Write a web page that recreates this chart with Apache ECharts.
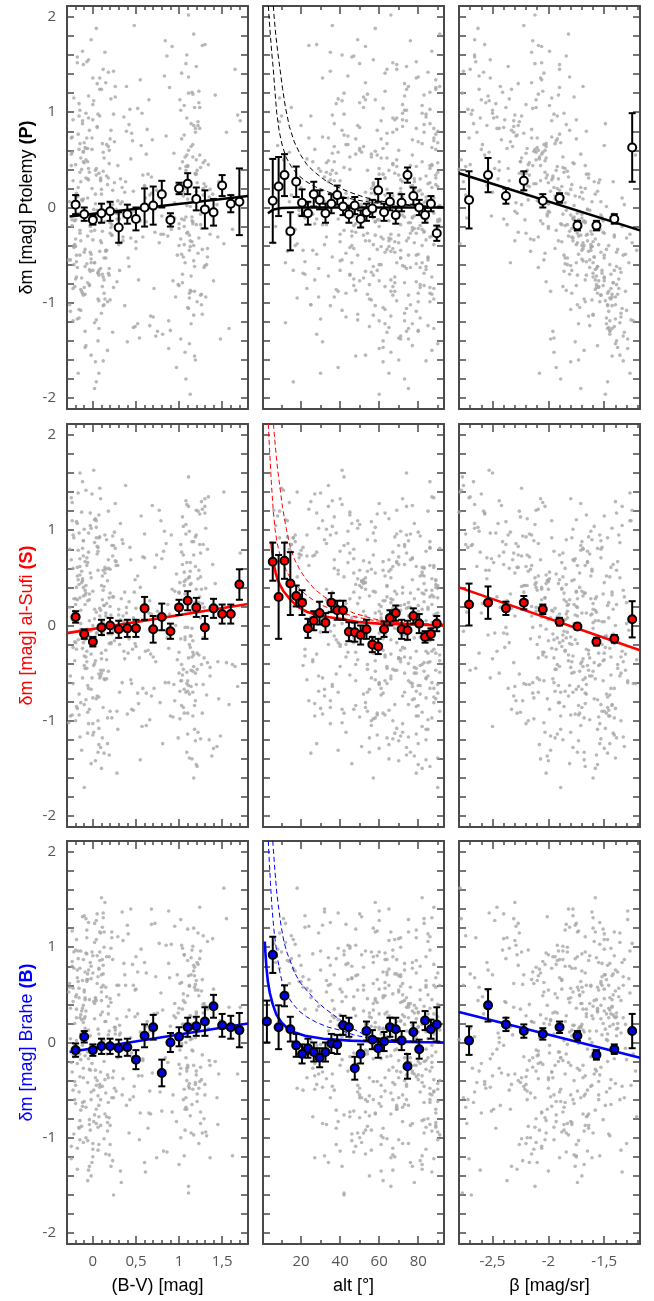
<!DOCTYPE html>
<html><head><meta charset="utf-8">
<script src="https://cdn.jsdelivr.net/npm/echarts@6/dist/echarts.min.js"></script>
<style>html,body{margin:0;padding:0;background:#fff}#c{width:654px;height:1301px}</style>
</head><body><div id="c"></div>
<script>
// ---------- individual stars (B-V, altitude, sky brightness beta, delta m per catalogue) ----------
const bvVals=[-0.22,0.05,1.12,-0.08,0.18,1.25,0.62,-0.15,0.02,1.05,-0.25,0.31,1.18,0.09,-0.11,0.88,1.31,0.14,-0.04,0.45,
1.09,-0.19,0.22,1.42,0.07,-0.27,0.56,1.15,-0.02,0.12,1.01,0.73,-0.13,0.26,1.22,-0.06,0.04,1.36,0.38,-0.21,
0.16,1.08,-0.09,0.95,0.67,-0.17,0.01,1.27,0.21,-0.24,1.14,0.48,0.10,-0.03,1.03,1.58,-0.12,0.29,0.83,1.19,
-0.07,0.13,1.11,-0.2,0.35,1.24,0.06,-0.14,0.97,0.52,1.33,-0.01,0.19,-0.26,1.06,0.77,0.08,1.16,-0.1,0.24,
1.29,-0.18,0.03,0.42,1.1,-0.05,0.15,1.48,0.61,-0.23,0.11,1.2,0.92,-0.08,0.27,1.04,0.0,-0.16,1.13,0.69,
0.17,-0.28,1.26,0.05,0.34,1.07,-0.12,0.91,0.2,1.38,-0.02,0.58,1.17,0.12,-0.19,1.0,0.44,-0.06,1.23,0.08,
1.65,-0.14,0.23,1.12,0.81,-0.09,0.04,1.3,0.36,-0.22,1.09,0.14,0.66,-0.04,1.19,0.98,0.28,-0.17,1.02,0.1,
-0.11,1.15,0.5,0.07,-0.25,1.28,0.18,0.86,-0.03,1.06,0.4,1.21,-0.15,0.02,0.71,1.11,-0.07,0.25,1.44,0.13,
0.94,-0.2,0.06,1.18,0.32,-0.1,1.25,0.55,0.16,-0.01,1.08,0.79,-0.18,0.21,1.14,0.03,1.34,-0.06,0.47,1.01,
-0.24,0.09,1.2,0.64,-0.13,0.3,1.05,0.0,1.52,-0.08,0.19,1.13,0.85,-0.16,0.11,1.27,0.37,-0.02,0.96,1.1,
0.15,-0.21,1.16,0.04,0.53,1.23,-0.12,0.26,1.07,-0.05,0.75,1.32,0.08,-0.19,1.0,0.43,1.17,0.12,-0.09,0.6,
1.12,-0.15,0.2,1.39,0.01,0.89,-0.23,1.04,0.33,0.07,1.22,-0.04,0.68,1.15,-0.11,0.17,1.09,0.5,-0.27,1.26,
0.06,1.71,-0.17,0.24,1.03,0.8,-0.07,0.13,1.19,0.39,-0.14,1.11,0.02,0.58,1.29,-0.1,0.22,0.93,1.06,-0.02,
0.1,1.14,-0.22,0.46,1.24,0.05,-0.08,0.99,0.72,1.17,-0.18,0.28,1.08,0.03,1.46,-0.12,0.16,0.63,1.21,-0.06,
1.02,0.19,-0.16,1.3,0.35,0.09,1.13,-0.03,0.84,-0.2,1.18,0.12,0.54,1.05,-0.09,0.23,1.36,0.0,-0.13,1.1,
0.41,-0.24,1.07,0.14,0.9,1.25,-0.05,0.3,1.16,0.07,-0.15,0.66,1.0,1.62,0.18,-0.11,1.12,0.49,0.04,1.2,
0.03,-0.18,1.14,0.22,-0.05,1.27,0.11,0.6,-0.23,1.09,0.15,-0.1,1.2,0.36,0.07,1.02,-0.14,0.27,1.31,0.0,
-0.2,1.06,0.18,0.49,-0.07,1.17,0.09,1.4,-0.16,0.31,1.11,0.05,-0.26,0.74,1.23,0.13,-0.02,1.08,0.42,-0.12,
1.19,0.2,-0.09,1.03,0.57,0.02,-0.21,1.28,0.16,0.88,-0.04,1.13,0.25,-0.17,1.0,0.65,0.06,1.35,-0.11,0.1,
0.14,1.16,-0.24,0.39,1.05,-0.06,0.23,1.22,0.01,-0.13,1.1,0.82,0.12,-0.19,1.26,0.47,1.55,-0.03,0.19,1.07,
-0.15,0.08,1.18,0.29,-0.08,1.12,0.7,0.04,-0.22,1.24,0.17,0.95,-0.01,1.04,0.34,-0.18,1.15,0.11,-0.06,0.52,
1.21,-0.12,0.21,1.09,0.06,-0.25,0.62,1.3,0.15,-0.04,1.01,0.44,-0.14,1.19,0.08,0.78,1.14,-0.09,0.26,1.68,
0.02,-0.2,1.25,0.37,0.1,1.06,-0.11,0.18,1.17,0.55,-0.02,1.11,0.87,-0.16,0.13,1.28,0.04,-0.07,1.03,0.32,
-0.23,1.13,0.07,0.68,1.2,-0.1,0.24,1.08,0.0,-0.15,1.33,0.45,0.12,1.16,-0.05,0.2,1.45,0.09,-0.19,1.1];
const altVals=[45,72,18,63,85,31,56,79,12,67,88,40,52,74,26,60,90,35,81,47,
69,22,58,83,38,76,8,65,49,87,29,71,54,91,43,62,16,78,34,57,
84,50,73,24,66,89,41,59,77,14,68,36,82,53,28,75,61,86,44,70,
19,64,80,47,33,88,55,72,39,62,85,27,67,79,51,6,74,58,90,42,
76,30,65,83,48,57,21,71,87,37,63,80,53,11,69,45,84,25,60,77,
89,41,54,73,32,66,86,17,61,78,46,70,91,35,56,82,23,68,50,75,
64,38,81,52,28,87,60,72,44,9,77,58,85,33,67,49,79,20,62,73,
55,86,40,69,76,15,83,47,63,90,31,57,74,42,88,66,26,80,51,71,
36,61,84,48,78,22,67,89,43,56,73,13,82,59,34,70,87,46,65,53,
81,29,74,62,39,85,57,68,18,77,50,88,44,63,83,24,71,55,37,79,
66,91,45,58,27,75,84,52,69,35,80,61,10,72,48,86,57,30,64,76,
43,82,54,70,21,89,60,37,78,65,49,84,32,73,58,87,41,67,14,80,
56,74,38,86,63,47,79,25,68,90,53,42,75,61,85,33,71,50,82,28,
64,77,46,88,59,19,72,55,83,40,67,91,36,62,78,51,26,69,86,44,
73,57,81,34,65,89,48,7,76,60,84,39,70,53,87,23,66,79,45,62,
85,31,71,58,80,42,67,88,54,16,75,63,47,82,37,69,90,52,77,60,
58,81,37,70,86,49,64,77,23,91,53,68,33,84,45,75,61,88,29,72,
66,42,83,55,79,17,71,60,89,39,74,50,85,27,63,80,46,69,57,87,
35,76,62,48,82,12,67,90,54,73,41,65,86,30,78,58,21,84,51,70,
88,44,59,75,36,81,64,9,72,52,87,40,69,79,25,61,83,47,74,56,
77,31,66,85,50,71,43,89,60,15,80,57,34,73,87,46,68,22,82,63,
54,86,39,76,62,48,90,28,71,83,57,65,41,79,13,88,52,74,60,36,
82,67,45,58,89,32,75,63,20,84,53,70,87,38,66,78,49,24,80,61,
72,55,88,43,69,81,35,77,59,90,47,64,84,27,73,56,86,40,68,79];
const betaVals=[-1.62,-2.31,-1.45,-2.02,-2.58,-1.83,-1.71,-2.2,-1.36,-1.94,-2.71,-1.52,-2.11,-1.78,-2.44,-1.29,-1.88,-2.15,-1.57,-1.99,
-2.49,-1.66,-1.41,-1.91,-2.26,-1.74,-1.5,-2.07,-2.66,-1.6,-1.85,-1.33,-2.18,-1.69,-2.03,-2.37,-1.47,-1.8,-2.76,-1.55,
-1.96,-2.12,-1.39,-2.29,-1.64,-1.9,-2.53,-1.48,-1.76,-2.05,-1.31,-2.22,-1.58,-1.86,-2.4,-1.43,-1.97,-1.67,-2.62,-1.73,
-1.53,-2.24,-1.81,-1.37,-2.09,-2.46,-1.68,-1.42,-1.93,-2.14,-1.59,-2.6,-1.77,-1.46,-2.0,-1.25,-2.33,-1.72,-1.89,-2.69,
-1.63,-1.4,-2.19,-1.84,-1.51,-2.52,-1.7,-1.98,-1.34,-2.35,-1.87,-1.56,-2.06,-2.78,-1.65,-1.44,-2.13,-1.92,-1.49,-2.42,
-1.79,-2.04,-1.38,-2.27,-1.61,-1.95,-2.67,-1.54,-1.75,-2.01,-1.28,-2.17,-1.82,-1.47,-2.38,-1.68,-2.08,-1.42,-2.56,-1.74,
-1.9,-1.58,-2.23,-1.66,-1.45,-2.1,-2.48,-1.8,-1.52,-1.97,-1.22,-2.3,-1.63,-1.86,-2.64,-1.5,-2.02,-1.71,-2.16,-1.35,
-1.69,-2.41,-1.88,-1.49,-2.07,-2.74,-1.6,-1.84,-1.39,-2.21,-1.76,-1.55,-2.5,-1.93,-1.44,-2.12,-1.7,-2.34,-1.32,-1.83,
-2.2,-1.61,-1.95,-1.43,-2.45,-1.78,-1.53,-2.06,-2.59,-1.67,-1.89,-1.27,-2.28,-1.81,-1.57,-2.0,-2.7,-1.73,-1.46,-2.11,
-1.85,-1.36,-2.36,-1.64,-1.98,-1.42,-2.19,-1.75,-2.79,-1.56,-2.03,-1.48,-2.29,-1.8,-1.62,-2.09,-2.5,-1.7,-1.4,-1.92,
-2.16,-1.51,-1.87,-2.63,-1.67,-1.3,-2.1,-1.77,-2.34,-1.54,-1.96,-1.45,-2.24,-1.72,-2.05,-2.72,-1.6,-1.83,-1.38,-2.17,
-1.79,-2.02,-1.5,-2.4,-1.65,-1.9,-1.24,-2.25,-1.74,-2.08,-2.55,-1.58,-1.82,-1.44,-2.13,-1.68,-2.66,-1.94,-1.53,-2.0,
-1.35,-2.31,-1.76,-1.57,-2.04,-2.51,-1.85,-1.47,-2.2,-1.66,-1.91,-2.77,-1.71,-1.41,-2.11,-1.78,-2.37,-1.55,-1.99,-1.31,
-2.22,-1.73,-1.46,-1.93,-2.57,-1.63,-1.86,-1.39,-2.27,-1.69,-2.06,-1.52,-2.44,-1.8,-1.59,-2.01,-1.21,-2.15,-1.67,-1.88,
-2.68,-1.74,-1.48,-2.03,-2.3,-1.64,-1.84,-1.34,-2.14,-1.77,-1.56,-2.53,-1.95,-1.7,-1.43,-2.24,-1.61,-2.07,-2.8,-1.72,
-1.5,-1.97,-2.38,-1.69,-1.45,-1.87,-2.61,-1.62,-2.09,-1.79,-1.33,-2.19,-1.75,-1.54,-2.32,-1.9,-1.4,-2.0,-2.73,-1.66,
-1.82,-2.09,-1.49,-1.71,-2.36,-1.6,-1.94,-2.55,-1.37,-1.77,-2.15,-1.53,-1.88,-2.46,-1.66,-1.29,-2.02,-1.74,-1.43,-2.2,
-1.58,-2.28,-1.85,-1.41,-2.65,-1.7,-1.97,-1.5,-2.12,-1.78,-1.34,-2.4,-1.63,-1.9,-2.05,-1.47,-1.81,-2.74,-1.56,-1.99,
-2.23,-1.67,-1.38,-1.92,-2.5,-1.75,-1.55,-2.17,-1.84,-1.45,-2.33,-1.61,-2.0,-1.27,-1.79,-2.6,-1.52,-1.87,-2.11,-1.69,
-1.44,-2.04,-1.73,-2.43,-1.59,-1.91,-1.32,-2.26,-1.8,-1.5,-2.14,-1.65,-2.7,-1.86,-1.4,-1.98,-2.31,-1.72,-1.57,-2.08,
-1.76,-2.52,-1.46,-1.89,-2.19,-1.62,-1.35,-2.01,-1.83,-2.38,-1.54,-1.7,-2.1,-1.42,-1.95,-2.66,-1.6,-1.81,-2.25,-1.48,
-1.93,-1.56,-2.35,-1.74,-1.39,-2.06,-1.67,-2.57,-1.85,-1.51,-2.13,-1.78,-1.3,-2.44,-1.64,-1.9,-2.02,-1.45,-1.71,-2.3,
-1.6,-2.18,-1.87,-1.43,-2.62,-1.75,-1.53,-1.96,-2.27,-1.68,-1.36,-2.09,-1.82,-2.47,-1.58,-1.92,-1.26,-2.15,-1.73,-2.0,
-2.39,-1.65,-1.47,-1.84,-2.11,-1.55,-2.76,-1.77,-1.41,-2.03,-1.69,-2.22,-1.33,-1.89,-2.54,-1.61,-1.79,-2.07,-1.5,-1.94];
const dmP=[-0.42,0.85,-0.95,0.31,1.42,-0.18,0.56,-0.27,-1.21,0.12,0.73,-0.66,1.05,-0.35,0.48,-1.48,0.22,1.63,-0.81,-0.05,
0.94,-0.57,-0.29,1.18,0.36,-1.02,0.65,-0.14,1.76,-0.73,0.41,-1.35,0.08,1.27,-0.48,0.62,-1.83,0.19,0.27,-0.39,
0.33,1.51,-0.62,0.05,-1.14,0.77,1.12,-0.44,-0.21,0.58,-0.88,1.91,0.14,-0.67,-0.12,-1.27,0.91,0.44,1.38,-1.6,
-0.08,0.52,1.37,-0.75,-0.31,0.83,-0.96,0.27,-1.68,1.04,-0.52,0.61,0.46,-1.09,-0.2,-0.37,1.24,-0.15,0.68,0.98,
-0.63,-1.17,0.39,0.87,-0.26,1.55,-0.45,-1.38,0.1,0.28,-0.83,0.17,1.69,0.5,-0.02,-0.7,-0.34,0.96,-1.96,0.71,
0.24,-0.55,-0.91,1.3,0.06,-1.52,0.88,-0.23,0.72,-0.09,-0.58,0.34,1.82,-1.03,0.15,-0.4,0.51,-0.79,1.1,-0.16,
1.45,-0.86,0.18,-0.29,-1.33,0.63,0.41,-0.61,-0.1,1.15,0.55,-0.04,-1.24,0.37,0.79,-0.5,-0.78,0.21,-0.33,-1.11,
0.09,1.21,-0.36,-0.98,0.44,0.13,-0.69,1.59,-0.47,-0.13,-1.41,0.26,1.02,-0.24,-0.85,2.02,-0.07,0.69,0.03,-0.53,
0.57,-0.41,0.98,-1.56,0.3,-0.11,-0.92,1.34,0.66,0.2,-1.8,-0.28,-0.06,0.81,-0.72,0.04,0.45,-0.3,-1.26,1.13,
-0.19,-0.64,1.48,0.35,-0.88,-0.07,0.23,0.92,-0.38,-1.45,0.6,0.01,0.75,-1.07,-0.25,1.7,0.16,-0.54,-0.94,0.43,
-0.46,-0.14,0.53,1.88,-0.76,-0.32,0.07,1.16,-0.58,0.29,-1.3,-0.6,0.96,0.11,-0.17,1.03,-1.13,0.38,-0.44,0.22,
-0.9,0.67,-0.27,0.14,-0.02,1.26,-1.19,0.48,-0.37,-1.74,0.86,-0.65,0.32,-0.1,0.59,-1.5,1.6,-0.43,0.06,-0.22,
-0.68,0.91,0.12,-0.84,1.41,-0.09,-0.59,-1.02,0.36,0.8,-0.35,1.2,-1.9,-0.31,0.25,0.47,-0.18,-0.77,1.07,-0.49,
0.19,-1.22,-0.4,0.7,0.55,-0.03,0.99,-0.81,-0.26,-0.56,1.52,-0.12,0.39,-1.62,0.27,-0.07,-0.45,0.82,-0.99,0.1,
1.02,-0.71,-1.16,0.49,-0.35,0.31,-0.87,-0.2,1.75,-0.13,-0.62,0.58,-1.37,0.16,-0.91,0.03,-0.28,1.36,0.4,-1.05,
-0.53,0.74,0.2,-0.15,-1.29,0.42,0.94,-0.39,1.19,-0.66,-0.5,0.13,-0.82,-0.23,0.64,1.5,-1.43,-0.04,-0.11,0.35,
0.14,-0.63,0.88,-0.29,0.41,-1.12,0.67,0.23,-0.85,0.02,1.31,-0.47,-0.18,0.95,-0.71,-1.38,0.52,-0.06,-0.94,1.08,
-0.33,0.76,0.05,-1.25,1.53,-0.4,0.29,-0.77,0.61,-0.12,-1.06,0.84,-0.55,0.18,1.22,-0.9,-0.25,0.43,-0.62,1.64,
0.35,-0.16,-1.47,0.72,0.99,-0.58,-0.83,0.47,-0.03,-1.19,0.81,-0.41,0.26,-1.74,-0.22,1.13,-0.69,0.11,0.58,-0.37,
-0.96,0.66,-0.13,1.27,-0.52,0.3,-1.31,0.9,-0.08,-0.74,0.44,-0.28,1.45,-0.5,-1.02,0.17,0.79,-0.19,-0.64,0.53,
-0.24,1.36,-0.88,0.07,0.62,-0.45,-1.15,0.34,-0.6,1.05,-0.99,-0.11,0.73,-0.79,0.21,1.58,-0.36,-0.7,0.48,-1.22,
0.39,-0.9,1.14,-0.27,-1.4,0.56,-0.15,1.71,-0.53,-0.82,0.25,-0.32,-1.08,0.83,-0.46,0.1,0.64,-1.3,-0.2,0.97,
-0.58,0.45,-0.07,-1.03,1.24,-0.39,-0.92,0.31,0.86,-0.14,-1.55,0.6,-0.3,1.09,-0.76,0.2,-1.18,0.73,-0.49,0.04,
0.92,-0.35,-1.27,0.15,0.5,-0.84,1.43,-0.1,-0.66,0.37,-0.43,0.78,-1.61,-0.17,1.17,-0.97,-0.31,0.28,-0.73,0.09];
const dmS=[0.28,-0.74,0.51,-0.33,1.2,0.08,-1.05,0.62,0.87,-0.46,1.34,-0.2,0.15,-1.28,0.73,-0.6,0.39,0.95,-0.12,-0.88,
0.66,-0.25,-0.97,0.44,-0.51,0.19,1.15,-1.4,1.02,0.03,-0.69,-0.38,0.57,0.81,-1.12,0.26,0.92,-0.44,1.47,-0.17,
-0.56,1.06,0.22,-0.79,-0.3,0.48,1.63,-0.92,0.11,1.29,-0.47,0.35,-1.5,-0.06,0.77,-0.83,-0.24,0.63,0.99,-1.21,
0.71,0.41,-0.63,-0.18,0.86,0.3,-1.33,-0.09,0.54,-0.71,-0.39,1.38,0.02,-0.95,0.46,1.21,0.18,-0.48,-1.7,0.84,
-0.34,-0.87,1.12,0.25,-0.58,0.97,0.13,-1.16,-0.27,0.6,-0.1,-1.46,0.38,1.42,0.67,-0.52,-0.76,0.09,-0.23,1.26,
0.47,-1.02,-0.41,0.83,0.9,-0.15,1.51,0.95,0.2,-1.37,-0.05,0.72,-0.31,-0.86,1.09,0.34,-0.57,-1.13,0.58,0.1,
-0.43,0.16,0.94,-0.72,-1.24,0.37,-0.08,1.33,0.04,0.92,-0.61,0.55,-0.99,0.27,0.62,-0.36,-1.55,0.79,-0.14,-0.5,
0.31,0.88,-0.22,-1.08,0.69,0.85,-0.48,-0.13,1.18,0.42,-0.93,-0.29,1.6,0.07,-0.66,0.5,-0.38,0.98,-1.27,0.21,
-0.62,0.12,0.78,-0.84,1.07,-0.32,-1.19,0.4,0.23,-0.55,-0.7,1.1,0.61,-0.19,0.14,-1.42,1.35,-0.04,-0.89,0.45,
0.06,-0.53,0.95,-0.26,-1.31,0.17,0.74,0.36,1.4,-0.78,0.29,-0.11,0.86,-0.94,0.52,1.22,-0.35,-0.67,0.0,-1.14,
0.59,-0.37,-0.16,1.03,-0.82,0.24,-0.55,0.68,0.33,-1.03,0.15,-0.73,1.44,0.4,-0.28,0.82,-1.6,-0.07,-0.45,0.96,
-0.2,0.53,-0.9,0.64,-0.42,0.12,-0.61,1.14,0.28,-1.25,0.49,0.05,-0.74,-0.33,0.89,-0.97,1.27,0.18,0.8,0.38,
-1.0,0.76,-0.15,0.3,-0.58,0.7,-0.27,-1.34,0.93,0.13,-0.81,1.56,-0.4,-0.66,0.19,1.01,-0.09,-0.96,0.56,-0.3,
0.42,-0.64,0.08,-0.25,1.17,0.75,0.34,-1.18,0.61,-0.43,0.27,-0.9,1.31,-0.12,-0.77,0.47,-0.36,0.2,-1.48,0.66,
0.85,-0.19,-0.72,1.25,0.1,-0.47,0.43,1.05,-0.6,0.22,-1.09,0.58,-0.34,-0.86,0.32,0.73,-0.53,0.0,1.19,-0.92,
-0.29,1.1,-0.02,-0.57,-0.95,0.51,0.77,0.11,-0.7,0.92,-1.17,0.26,0.35,-0.41,0.69,-0.18,-1.39,0.48,0.14,-0.62,
-0.37,0.52,-0.11,0.84,-0.66,0.23,-1.18,0.71,0.95,-0.49,0.1,-0.83,0.38,-0.27,1.16,-0.58,-0.04,0.63,1.02,-1.03,
0.28,-0.92,0.6,-0.19,-0.45,0.88,0.16,-1.29,0.43,-0.7,1.25,-0.08,-0.53,0.74,-0.31,0.21,-1.45,0.96,-0.14,0.49,
-0.79,0.34,0.67,-0.41,-1.06,1.11,0.05,-0.62,0.9,-0.24,-0.88,0.57,-0.16,1.39,-0.5,0.13,0.82,-1.2,0.4,-0.35,
0.61,-0.28,-0.94,0.19,1.04,-0.63,0.3,1.2,-1.12,0.45,-0.02,0.78,-0.47,-0.85,1.3,0.08,-0.39,0.55,-1.36,-0.12,
0.7,-0.55,0.24,-1.09,0.42,0.99,-0.33,-0.77,0.15,0.85,-1.24,0.36,-0.2,0.64,-0.6,1.07,-0.03,0.27,-0.91,0.52,
-0.46,0.81,-0.18,-1.33,0.58,0.09,-0.71,1.18,-0.26,0.33,-0.98,0.69,0.02,-0.5,0.93,-0.81,0.44,-0.15,1.28,-0.64,
0.17,-1.0,0.76,0.35,-0.29,-0.67,0.89,-0.09,0.74,-1.41,0.5,-0.34,0.22,0.97,-0.56,-0.13,1.1,0.63,-0.84,0.06,
-0.23,0.66,-0.75,0.12,1.21,-0.42,-0.06,0.48,-1.15,0.29,0.8,-0.61,0.37,-0.95,-0.1,0.59,-0.38,1.33,0.04,-0.69];
const dmB=[-0.15,0.62,-0.48,0.94,0.3,-0.85,0.17,-0.36,1.05,0.51,-1.22,0.08,0.79,-0.6,-0.27,1.38,-0.94,0.22,0.45,-0.11,
-0.7,0.35,1.16,-0.2,-1.07,0.58,0.98,0.04,-0.52,1.31,-0.33,0.69,-0.88,0.13,0.82,-1.45,1.08,-0.24,0.6,-0.41,
0.9,-0.58,0.27,1.22,-0.75,-0.1,0.43,0.66,-1.3,0.85,0.19,-0.46,1.52,-0.92,-0.03,0.37,-0.67,1.11,-0.3,0.55,
0.64,-1.01,0.11,0.48,-0.38,1.42,-0.56,0.29,-0.83,0.74,1.06,-0.22,-1.18,0.36,0.92,1.04,-0.44,0.16,-0.62,-1.6,
0.41,0.76,-0.29,-0.95,1.19,-0.17,0.58,0.23,-1.36,-0.5,0.87,0.32,-0.73,1.3,-0.07,0.99,-1.12,0.47,0.14,-0.32,
-0.84,0.53,0.2,-0.4,1.37,0.09,-0.63,1.03,-1.07,0.39,0.67,-0.19,-0.97,0.81,0.26,-1.28,0.05,0.72,-0.48,1.16,
0.18,-0.71,-1.24,0.6,0.34,-0.14,1.28,-0.55,0.83,0.78,-0.3,1.47,0.12,-0.86,-0.42,0.71,0.25,0.64,-1.0,0.44,
-0.37,0.97,0.56,-0.66,-0.21,1.12,0.38,-1.15,0.07,-0.49,1.23,0.84,-0.12,-0.76,0.3,-1.51,0.93,0.16,-0.58,1.0,
0.28,-0.45,-0.89,0.7,0.1,1.33,-0.26,-0.74,0.48,0.95,-0.16,0.52,-1.33,0.42,0.89,-0.37,0.15,-1.03,0.6,-0.08,
0.8,1.15,-0.34,-0.9,0.24,0.5,-0.6,-1.2,1.62,0.33,-0.79,0.03,1.02,0.57,-0.46,-0.13,0.71,-1.4,0.26,0.86,
-0.53,0.2,1.01,0.44,-0.35,-1.06,0.65,0.09,-0.7,1.26,0.31,-0.98,0.95,0.5,-0.23,-0.6,1.2,-0.02,0.74,-1.26,
0.13,-0.82,0.46,1.09,-0.5,0.68,-0.12,0.35,-1.47,0.77,0.55,-0.28,1.4,-0.65,0.21,-0.93,0.06,0.9,0.62,-0.39,
-1.13,0.37,0.88,-0.3,0.63,-0.72,1.18,0.02,-0.44,0.27,0.96,-1.58,0.41,-0.17,-0.8,0.53,1.1,-0.55,0.19,-0.06,
0.71,0.14,-0.96,0.82,-0.41,0.91,-0.68,0.31,1.25,-0.24,-1.11,0.6,0.0,0.47,-0.33,1.32,-0.78,0.22,-0.54,0.66,
-0.27,0.9,-0.52,0.12,1.07,-0.87,0.28,0.84,-0.16,-0.64,0.58,1.36,-1.02,0.19,0.45,-0.37,-1.21,0.73,0.03,0.49,
1.14,-0.31,0.42,-0.75,0.17,0.96,-1.34,0.6,-0.09,0.78,0.26,-0.51,0.36,-1.19,0.08,0.87,-0.43,0.55,-0.85,0.3,
0.46,-0.22,0.71,-0.58,0.13,-0.95,0.32,0.84,0.57,-0.4,-1.17,0.25,0.65,-0.07,-0.78,1.29,0.09,-0.51,0.38,-1.06,
-0.14,0.92,-0.63,0.27,1.1,0.75,-0.31,0.56,-0.89,0.18,-0.46,1.35,0.04,-1.21,0.49,-0.2,0.8,-0.68,0.34,-0.03,
0.61,-0.87,0.15,1.02,-0.35,1.25,-0.6,0.4,-0.12,0.83,-1.3,0.28,-0.48,0.96,0.07,-0.74,0.69,-0.19,-1.05,0.53,
-0.39,0.2,1.17,-0.66,0.44,-0.1,0.87,1.15,-0.83,0.33,-0.26,-1.14,0.72,0.02,0.54,-0.57,1.3,-0.29,0.12,-0.92,
0.78,-0.47,0.26,-0.16,-1.0,0.59,0.1,-0.7,0.95,0.88,-0.34,0.41,-1.26,0.19,-0.55,0.68,-0.08,1.21,-0.42,0.3,
-0.62,0.36,0.99,-0.27,0.14,-1.09,0.73,-0.44,0.22,-0.81,0.62,1.4,-0.18,0.05,0.86,-0.52,-0.95,0.47,0.16,-0.33,
0.25,0.97,-0.73,-0.05,0.58,-1.19,0.39,-0.37,0.81,0.11,-0.6,0.7,-0.21,-0.9,1.16,0.31,-0.45,0.66,-0.01,-1.35,
0.43,-0.77,0.09,1.24,-0.3,0.55,-0.58,0.18,0.91,-1.02,0.35,-0.15,0.6,-0.49,0.76,0.0,-0.86,0.29,1.08,-0.24];

// ---------- binned means ----------
const bvBins=[-0.2,-0.1,0,0.1,0.2,0.3,0.4,0.5,0.6,0.7,0.8,0.9,1,1.1,1.2,1.3,1.4,1.5,1.6,1.7];
const altBins=[5.5,8.5,11.5,14.5,17.5,20.5,23.5,26.5,29.5,32.5,35.5,38.5,41.5,44.5,47.5,50.5,53.5,56.5,59.5,62.5,65.5,68.5,71.5,74.5,77.5,80.5,83.5,86.5,89.5];
const altBinsB=[2.5,5.5,8.5,11.5,14.5,17.5,20.5,23.5,26.5,29.5,32.5,35.5,38.5,41.5,44.5,47.5,50.5,53.5,56.5,59.5,62.5,65.5,68.5,71.5,74.5,77.5,80.5,83.5,86.5,89.5];
const betaBins=[-2.71,-2.54,-2.38,-2.22,-2.05,-1.9,-1.74,-1.57,-1.41,-1.25];

const pBvMean=[0.03,-0.07,-0.13,-0.06,-0.04,-0.21,-0.07,-0.12,0.0,0.02,0.14,-0.13,0.2,0.25,0.09,-0.02,-0.05,0.23,0.04,0.06];
const pBvErr=[0.1,0.07,0.05,0.1,0.1,0.16,0.1,0.12,0.2,0.2,0.14,0.07,0.06,0.11,0.12,0.2,0.14,0.11,0.09,0.35];
const pAltMean=[0.07,0.22,0.34,-0.25,0.27,0.05,-0.06,0.14,0.08,-0.06,0.04,0.13,0.01,-0.07,0.02,-0.12,-0.05,-0.01,0.18,-0.05,0.06,-0.08,0.05,0.34,0.12,0.0,-0.08,0.04,-0.27];
const pAltErr=[0.44,0.31,0.22,0.2,0.16,0.14,0.12,0.13,0.1,0.1,0.1,0.1,0.09,0.09,0.09,0.09,0.09,0.09,0.12,0.09,0.09,0.09,0.09,0.08,0.09,0.08,0.08,0.08,0.08];
const pBetaMean=[0.08,0.34,0.12,0.28,0.07,0.1,-0.19,-0.19,-0.12,0.63];
const pBetaErr=[0.3,0.18,0.08,0.1,0.07,0.05,0.05,0.05,0.05,0.36];

const sBvMean=[0.09,-0.09,-0.17,-0.02,0.0,-0.04,-0.03,-0.03,0.18,-0.04,0.09,-0.06,0.19,0.26,0.19,-0.02,0.18,0.12,0.12,0.43];
const sBvErr=[0.06,0.05,0.05,0.08,0.08,0.09,0.09,0.09,0.12,0.14,0.14,0.08,0.08,0.1,0.1,0.12,0.1,0.1,0.1,0.16];
const sAltMean=[0.67,0.30,0.68,0.44,0.31,0.24,-0.03,0.05,0.13,0.03,0.24,0.16,0.16,-0.065,-0.07,-0.1,-0.04,-0.2,-0.22,-0.04,0.08,0.13,-0.04,-0.05,0.1,0.02,-0.12,-0.09,0.02];
const sAltErr=[0.2,0.44,0.19,0.33,0.11,0.13,0.1,0.1,0.12,0.1,0.1,0.1,0.1,0.1,0.1,0.1,0.1,0.08,0.08,0.08,0.08,0.08,0.1,0.1,0.08,0.1,0.06,0.06,0.08];
const sBetaMean=[0.22,0.24,0.18,0.24,0.17,0.04,-0.01,-0.17,-0.14,0.065];
const sBetaErr=[0.22,0.17,0.07,0.07,0.05,0.04,0.03,0.04,0.04,0.19];

const bBvMean=[-0.08,0.06,-0.08,-0.04,-0.04,-0.06,-0.05,-0.18,0.07,0.16,-0.32,0.0,0.06,0.16,0.17,0.22,0.38,0.18,0.16,0.13];
const bBvErr=[0.07,0.06,0.06,0.08,0.08,0.09,0.09,0.1,0.12,0.13,0.14,0.1,0.1,0.1,0.1,0.15,0.12,0.12,0.12,0.18];
const bAltMean=[0.22,0.92,0.16,0.49,0.14,-0.03,-0.12,-0.06,-0.1,-0.16,-0.1,-0.01,-0.02,0.18,0.16,-0.27,-0.12,0.12,0.03,-0.06,0.01,0.16,0.14,0.02,-0.25,0.11,-0.07,0.23,0.14,0.19];
const bAltErr=[0.22,0.19,0.23,0.11,0.13,0.12,0.1,0.1,0.1,0.1,0.1,0.1,0.1,0.1,0.1,0.12,0.1,0.1,0.1,0.1,0.1,0.1,0.12,0.1,0.13,0.1,0.1,0.1,0.1,0.18];
const bBetaMean=[0.02,0.39,0.19,0.12,0.09,0.16,0.07,-0.13,-0.07,0.12];
const bBetaErr=[0.15,0.17,0.07,0.07,0.06,0.06,0.05,0.05,0.05,0.18];

// ---------- fitted relations ----------
const fitPbv=[[-0.27,-0.095],[1.8,0.12]];
const fitPalt=[[3,-0.06],[4,-0.04],[6,-0.02],[10,-0.005],[20,0.0],[93.2,0.0]];
const fitPbeta=[[-2.8,0.36],[-1.18,-0.24]];
const dashPa=[[3.0,2.2],[3.6,2.0],[4.3,1.8],[5.0,1.62],[5.7,1.47],[6.5,1.25],[7.5,1.0],[8.8,0.8],[10.5,0.64],[12.5,0.52],[15,0.43],[18,0.35],[22,0.28],[27,0.22],[33,0.17],[40,0.12],[48,0.08],[57,0.05],[68,0.03],[80,0.015],[93.2,0.01]];
const dashPb=[[5.5,2.2],[6.2,2.0],[7.0,1.82],[8.0,1.64],[9.1,1.47],[10.5,1.25],[12,1.05],[14,0.85],[16.5,0.69],[19.5,0.56],[23,0.45],[27,0.37],[32,0.29],[38,0.22],[45,0.16],[52,0.11],[60,0.07],[70,0.04],[80,0.02],[93.2,0.01]];
const fitSbv=[[-0.3,-0.08],[1.8,0.225]];
const fitSalt=[[4.8,0.88],[5.3,0.76],[6,0.65],[7,0.55],[8,0.48],[9.1,0.43],[11,0.36],[14.2,0.28],[18,0.2],[22.8,0.145],[30,0.1],[39.9,0.07],[50,0.035],[60,0.02],[75,0.01],[93.2,0]];
const fitSbeta=[[-2.8,0.40],[-1.18,-0.26]];
const dashSa=[[3.0,2.2],[3.6,1.95],[4.2,1.72],[4.9,1.46],[5.7,1.22],[6.6,1.02],[7.8,0.86],[9.2,0.74],[10.8,0.65],[13,0.55],[15.5,0.47],[18,0.41],[22,0.33],[26,0.27],[31,0.21],[38,0.15],[48,0.09],[58,0.05],[70,0.03],[82,0.02],[93.2,0.015]];
const dashSb=[[5.5,2.2],[6.3,2.0],[7.2,1.8],[8.1,1.62],[9.1,1.46],[10.5,1.24],[12.2,1.04],[14.2,0.84],[16.5,0.7],[19.5,0.58],[22.8,0.48],[27,0.38],[32,0.3],[39.9,0.2],[47,0.13],[57,0.07],[67,0.035],[78,0.015],[93.2,0.005]];
const fitBbv=[[-0.27,-0.1],[1.8,0.2]];
const fitBalt=[[1.4,1.06],[1.8,0.92],[2.3,0.78],[3,0.64],[4,0.52],[5.5,0.4],[7.4,0.29],[10,0.21],[13,0.15],[16,0.11],[22,0.07],[31.4,0.04],[45,0.02],[57,0.01],[75,0.005],[93.2,0]];
const fitBbeta=[[-2.8,0.32],[-1.18,-0.16]];
const dashBa=[[3.0,2.2],[3.6,1.95],[4.3,1.68],[5.1,1.42],[6.0,1.2],[6.8,1.06],[8,0.88],[9.3,0.72],[10.8,0.6],[13,0.49],[16,0.4],[19,0.33],[22.8,0.27],[28,0.21],[34,0.16],[40,0.13],[47,0.08],[53.6,0.05],[63,0.025],[75,0.01],[93.2,0]];
const dashBb=[[5.2,2.2],[5.9,2.0],[6.7,1.78],[7.6,1.56],[8.6,1.4],[9.8,1.22],[11.3,1.05],[13,0.93],[14.2,0.87],[16.5,0.74],[19.5,0.63],[22.8,0.55],[27,0.45],[32,0.36],[39.9,0.24],[46,0.15],[53.6,0.07],[62,0.04],[72,0.02],[93.2,0]];

// ---------- axes ----------
const xMajor=[[0,0.5,1,1.5],[20,40,60,80],[-2.5,-2,-1.5]];
const xMinor=[[-0.2,-0.1,0.1,0.2,0.3,0.4,0.6,0.7,0.8,0.9,1.1,1.2,1.3,1.4,1.6,1.7],[10,30,50,70,90],[-2.7,-2.6,-2.4,-2.3,-2.2,-2.1,-1.9,-1.8,-1.7,-1.6,-1.4,-1.3,-1.2]];
const yTicks=[-2,-1.8,-1.6,-1.4,-1.2,-1,-0.8,-0.6,-0.4,-0.2,0,0.2,0.4,0.6,0.8,1,1.2,1.4,1.6,1.8,2];
const yLabels=[-2,-1,0,1,2];
const xNames=['(B-V) [mag]','alt [°]','β [mag/sr]'];
const rowNames=[['δm [mag] Ptolemy ','(P)'],['δm [mag] al-Sufi ','(S)'],['δm [mag] Brahe ','(B)']];

const rowColors=['#000000','#ff0000','#0000ff'];
const fillColors=['#ffffff','#ff0000','#0000e6'];
const XR=[[-0.3,1.8],[0.5,93.2],[-2.8,-1.18]];
const YR=[-2.115,2.115];
const L=[67,263,459], T=[6,424,841], W=181, H=403;

const rowsData=[
 {dm:dmP, bins:[[bvBins,pBvMean,pBvErr],[altBins,pAltMean,pAltErr],[betaBins,pBetaMean,pBetaErr]], fits:[fitPbv,fitPalt,fitPbeta], dashed:[dashPa,dashPb]},
 {dm:dmS, bins:[[bvBins,sBvMean,sBvErr],[altBins,sAltMean,sAltErr],[betaBins,sBetaMean,sBetaErr]], fits:[fitSbv,fitSalt,fitSbeta], dashed:[dashSa,dashSb]},
 {dm:dmB, bins:[[bvBins,bBvMean,bBvErr],[altBinsB,bAltMean,bAltErr],[betaBins,bBetaMean,bBetaErr]], fits:[fitBbv,fitBalt,fitBbeta], dashed:[dashBa,dashBb]}
];
const colX=[bvVals,altVals,betaVals];

const AX='#4a4a4a';
const fmt=v=>String(v).replace('.',',');
const grid=[],xAxis=[],yAxis=[],series=[];
for(let r=0;r<3;r++){for(let c=0;c<3;c++){
  const g=r*3+c;
  grid.push({left:L[c],top:T[r],width:W,height:H});
  const xb={type:'value',gridIndex:g,min:XR[c][0],max:XR[c][1],splitLine:{show:false}};
  const tickMaj={show:true,inside:true,length:8,customValues:xMajor[c],lineStyle:{color:AX,width:1.5}};
  const tickMin={show:true,inside:true,length:4,customValues:xMinor[c],lineStyle:{color:AX,width:1.5}};
  xAxis.push(Object.assign({},xb,{position:'bottom',axisLine:{show:true,onZero:false,lineStyle:{color:AX,width:2}},axisTick:tickMaj,
    axisLabel:{show:r===2,customValues:xMajor[c],formatter:fmt,color:'#555',fontSize:15,fontFamily:'Open Sans',margin:10},
    name:r===2?xNames[c]:'',nameLocation:'middle',nameGap:33,nameTextStyle:{fontFamily:'Liberation Sans',fontSize:18,color:'#000',verticalAlign:'top'}}));
  xAxis.push(Object.assign({},xb,{position:'bottom',axisLine:{show:false,onZero:false},axisTick:tickMin,axisLabel:{show:false}}));
  xAxis.push(Object.assign({},xb,{position:'top',axisLine:{show:true,onZero:false,lineStyle:{color:AX,width:2}},axisTick:tickMaj,axisLabel:{show:false}}));
  xAxis.push(Object.assign({},xb,{position:'top',axisLine:{show:false,onZero:false},axisTick:tickMin,axisLabel:{show:false}}));
  const yb={type:'value',gridIndex:g,min:YR[0],max:YR[1],splitLine:{show:false},
    axisLine:{show:true,onZero:false,lineStyle:{color:AX,width:2}},
    axisTick:{show:true,inside:true,length:7,customValues:yTicks,lineStyle:{color:AX,width:1.5}}};
  yAxis.push(Object.assign({},yb,{position:'left',
    axisLabel:{show:c===0,customValues:yLabels,color:'#555',fontSize:15,fontFamily:'Open Sans',margin:11},
    name:c===0?('{n|'+rowNames[r][0]+'}{b|'+rowNames[r][1]+'}'):'',nameLocation:'middle',nameGap:31,nameRotate:90,
    nameTextStyle:{rich:{n:{fontFamily:'Liberation Sans',fontSize:18,color:rowColors[r]},b:{fontFamily:'Liberation Sans',fontSize:18,fontWeight:'bold',color:rowColors[r]}}}}));
  yAxis.push(Object.assign({},yb,{position:'right',axisLabel:{show:false}}));

  const xi=4*g, yi=2*g, R=rowsData[r];
  series.push({type:'scatter',xAxisIndex:xi,yAxisIndex:yi,symbolSize:3.6,silent:true,z:1,
    itemStyle:{color:'#a6a6a6'},data:colX[c].map((x,i)=>[x,R.dm[i]])});
  if(c===1){
    R.dashed.forEach(d=>series.push({type:'line',xAxisIndex:xi,yAxisIndex:yi,data:d,smooth:false,showSymbol:false,silent:true,z:2,
      lineStyle:{color:rowColors[r],width:1,type:[5,3]}}));
  }
  series.push({type:'line',xAxisIndex:xi,yAxisIndex:yi,data:R.fits[c],smooth:false,showSymbol:false,silent:true,z:3,
    lineStyle:{color:rowColors[r],width:2.6,join:'round'}});
  const [bx,bm,be]=R.bins[c];
  series.push({type:'custom',xAxisIndex:xi,yAxisIndex:yi,silent:true,z:4,encode:{x:0,y:[1,2]},
    data:bx.map((x,i)=>[x,bm[i]-be[i],bm[i]+be[i]]),
    renderItem:(p,api)=>{
      const x=api.value(0), lo=api.coord([x,api.value(1)]), hi=api.coord([x,api.value(2)]), w=3.5;
      const st={stroke:'#000',lineWidth:2};
      return {type:'group',children:[
        {type:'line',shape:{x1:lo[0],y1:lo[1],x2:hi[0],y2:hi[1]},style:st},
        {type:'line',shape:{x1:lo[0]-w,y1:lo[1],x2:lo[0]+w,y2:lo[1]},style:st},
        {type:'line',shape:{x1:hi[0]-w,y1:hi[1],x2:hi[0]+w,y2:hi[1]},style:st}]};
    }});
  series.push({type:'scatter',xAxisIndex:xi,yAxisIndex:yi,silent:true,z:5,symbolSize:8,
    itemStyle:{color:fillColors[r],borderColor:'#000',borderWidth:2,opacity:1},data:bx.map((x,i)=>[x,bm[i]])});
}}

const chart=echarts.init(document.getElementById('c'),null,{renderer:'canvas'});
chart.setOption({animation:false,backgroundColor:'#fff',grid,xAxis,yAxis,series});
</script></body></html>
